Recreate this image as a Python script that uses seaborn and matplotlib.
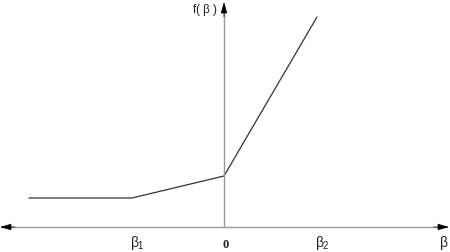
import matplotlib
matplotlib.use("Agg")
import matplotlib.pyplot as plt
import seaborn as sns
import pandas as pd

# piecewise function (pixel-derived units, origin at axes crossing)
beta = [-195, -92, 0, 93]
f_beta = [29, 29, 51, 210]
tick_labels = [r"$\beta_1$", "0", r"$\beta_2$"]
tick_pos = [-92, 0, 93]

sns.set_style("white")
plt.rcParams['font.family'] = ['Liberation Sans', 'DejaVu Sans']
plt.rcParams['mathtext.fontset'] = 'custom'
plt.rcParams['mathtext.rm'] = 'Liberation Sans'
plt.rcParams['mathtext.it'] = 'Liberation Sans'

fig = plt.figure(figsize=(4.5, 2.53), dpi=100)
ax = fig.add_axes([0, 0, 1, 1])
ax.set_xlim(-224, 226)
ax.set_ylim(-25, 228)
ax.axis("off")

df = pd.DataFrame({"beta": beta, "f": f_beta})
sns.lineplot(data=df, x="beta", y="f", ax=ax, color="#333333", lw=0.9, sort=False)

axis_col = "#999999"
ax.plot([-222, 222], [0, 0], color=axis_col, lw=1.0)
ax.plot([0, 0], [0, 222], color=axis_col, lw=1.0)

head = dict(arrowstyle="-|>,head_length=0.7,head_width=0.2", color="black", lw=0.5,
            shrinkA=0, shrinkB=0)
ax.annotate("", xy=(225, 0), xytext=(210, 0), arrowprops=head)
ax.annotate("", xy=(-224, 0), xytext=(-209, 0), arrowprops=head)
ax.annotate("", xy=(0, 225), xytext=(0, 210), arrowprops=head)

for p, t in zip(tick_pos, tick_labels):
    if t == "0":
        ax.text(p + 2, -17, t, ha="center", va="center", fontsize=9, color="#222222",
                fontweight="bold", family="Liberation Serif")
    else:
        ax.text(p + 5, -15, t, ha="center", va="center", fontsize=10, color="#222222")
ax.text(220, -15, r"$\beta$", ha="center", va="center", fontsize=10, color="#222222")
ax.text(-19, 218, r"f( $\beta$ )", ha="center", va="center", fontsize=8.5, color="#222222")

fig.savefig("out.png", dpi=100)
